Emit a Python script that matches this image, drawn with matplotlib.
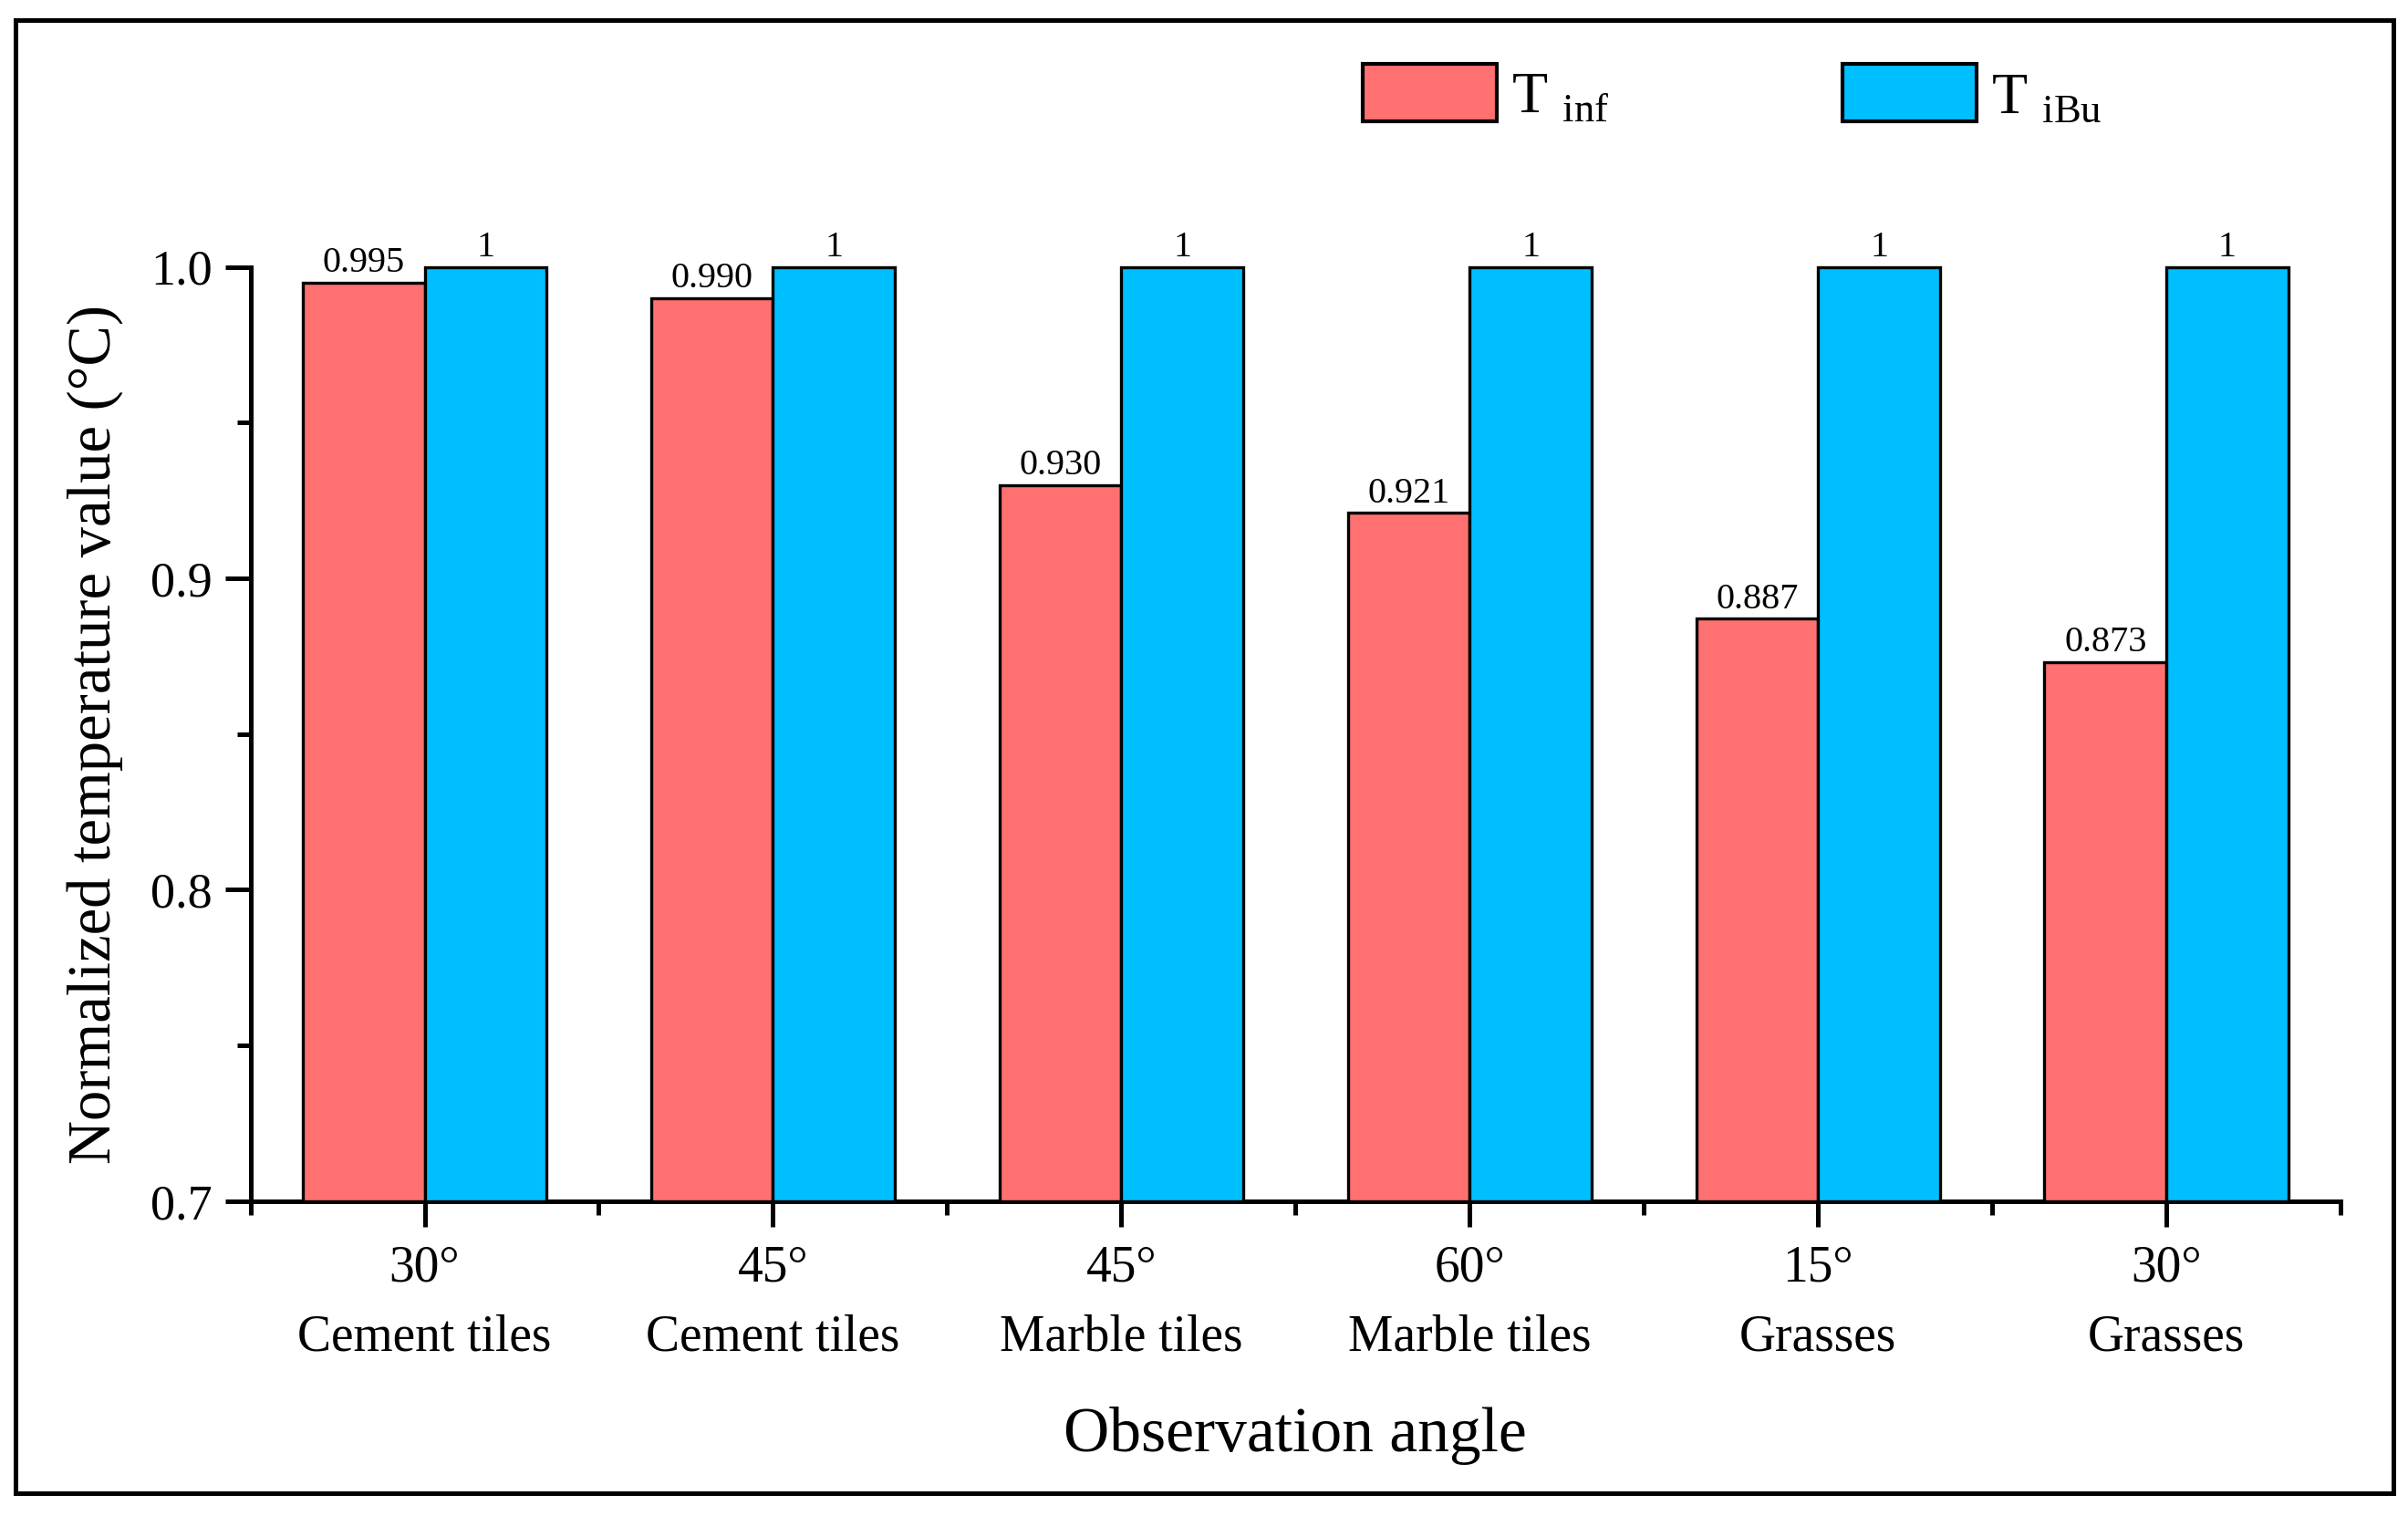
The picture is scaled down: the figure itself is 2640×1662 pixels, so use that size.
import numpy as np
import matplotlib
matplotlib.use("Agg")
import matplotlib.pyplot as plt
from matplotlib.patches import Rectangle, Patch
from matplotlib.ticker import MultipleLocator

plt.rcParams["font.family"] = ["Liberation Serif", "DejaVu Serif"]
plt.rcParams["mathtext.fontset"] = "custom"
plt.rcParams["mathtext.rm"] = "Liberation Serif"

# -----------------------------
# данные
# -----------------------------
angles = ["30°", "45°", "45°", "60°", "15°", "30°"]
surfaces = ["Cement tiles", "Cement tiles", "Marble tiles", "Marble tiles", "Grasses", "Grasses"]
t_inf = [0.995, 0.990, 0.930, 0.921, 0.887, 0.873]
t_ibu = [1, 1, 1, 1, 1, 1]
series_names = ["T $_{\\mathrm{inf}}$", "T $_{\\mathrm{iBu}}$"]
colors = ["#FF7070", "#00BFFF"]

y0 = 0.7
width = 0.35
x = np.arange(len(angles))

fig = plt.figure(figsize=(26.4, 16.62), dpi=100)
ax = fig.add_axes([0.104, 0.2076, 0.868, 0.6164])

for vals, off, col in [(t_inf, -width / 2, colors[0]), (t_ibu, width / 2, colors[1])]:
    vals = np.array(vals, dtype=float)
    ax.bar(x + off, vals - y0, bottom=y0, width=width, color=col,
           edgecolor="black", linewidth=2.4, clip_on=False, zorder=3)

for i in range(len(x)):
    ax.annotate(f"{t_inf[i]:.3f}", (x[i] - width / 2, t_inf[i]), xytext=(0, 2),
                textcoords="offset points", ha="center", va="bottom",
                fontsize=29, annotation_clip=False)
    ax.annotate(f"{t_ibu[i]:g}", (x[i] + width / 2, t_ibu[i]), xytext=(0, 2),
                textcoords="offset points", ha="center", va="bottom",
                fontsize=29, annotation_clip=False)

ax.set_xlim(-0.5, len(x) - 0.5)
ax.set_ylim(y0, 1.0)
ax.set_xticks(x)
ax.set_xticklabels([f"{a}\n{s}" for a, s in zip(angles, surfaces)], fontsize=40,
                   linespacing=1.6)
ax.set_xticks(np.arange(-0.5, len(x)), minor=True)
ax.set_yticks([0.7, 0.8, 0.9, 1.0])
ax.set_yticklabels(["0.7", "0.8", "0.9", "1.0"], fontsize=39)
ax.yaxis.set_minor_locator(MultipleLocator(0.05))

ax.tick_params(axis="both", which="major", direction="out", length=20, width=3.6)
ax.tick_params(axis="both", which="minor", direction="out", length=11, width=3.6)
ax.tick_params(axis="x", which="major", pad=14)
ax.tick_params(axis="y", which="major", pad=10)

for side in ["top", "right"]:
    ax.spines[side].set_visible(False)
for side in ["left", "bottom"]:
    ax.spines[side].set_linewidth(3.6)

ax.set_xlabel("Observation angle", fontsize=50, labelpad=36)
ax.set_ylabel("Normalized temperature value (°C)", fontsize=48, labelpad=22)

# легенда
handles = [Patch(facecolor=c, edgecolor="black", linewidth=3) for c in colors]
fig.legend(handles, series_names, loc="upper left", bbox_to_anchor=(0.566, 0.958),
           ncol=2, frameon=False, fontsize=46, handlelength=2.3, handleheight=1.15,
           handletextpad=0.25, columnspacing=4.0, borderpad=0, borderaxespad=0)

# рамка вокруг рисунка
fig.patches.append(Rectangle((0.0064, 0.015), 0.9876, 0.972, transform=fig.transFigure,
                             fill=False, edgecolor="black", linewidth=3.6))

fig.savefig("out.png", dpi=100)
